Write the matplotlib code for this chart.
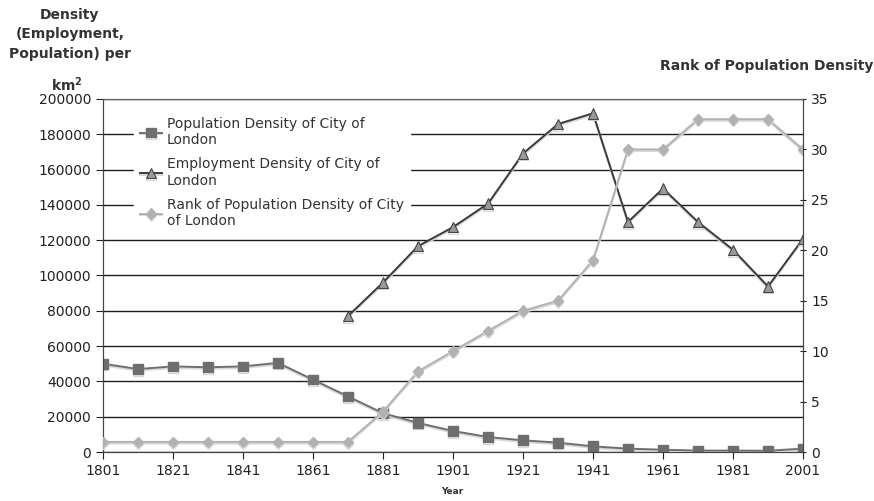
import numpy as np
import matplotlib
matplotlib.use('Agg')
import matplotlib.pyplot as plt
import matplotlib.patheffects as pe

years = [1801, 1811, 1821, 1831, 1841, 1851, 1861, 1871, 1881, 1891, 1901,
         1911, 1921, 1931, 1941, 1951, 1961, 1971, 1981, 1991, 2001]
# population density per km2 (left axis)
pop_density = [50000, 47000, 48500, 48000, 48500, 50500, 41000, 31500, 22000, 16500, 11900,
               8500, 6600, 5300, 3200, 1900, 1300, 800, 800, 700, 1900]
# employment density, data starts 1871
emp_years = [1871, 1881, 1891, 1901, 1911, 1921, 1931, 1941, 1951, 1961, 1971, 1981, 1991, 2001]
emp_density = [77000, 96000, 116600, 127400, 140700, 169100, 185800, 191900,
               130300, 149300, 130300, 114600, 93750, 120800]
# rank of population density (right axis)
rank = [1, 1, 1, 1, 1, 1, 1, 1, 4, 8, 10, 12, 14, 15, 19, 30, 30, 33, 33, 33, 30]

xticks = [1801, 1821, 1841, 1861, 1881, 1901, 1921, 1941, 1961, 1981, 2001]

plt.rcParams['font.family'] = 'DejaVu Sans'
fig = plt.figure(figsize=(8.74, 5.01), dpi=100)
ax = fig.add_axes([0.1178, 0.0978, 0.801, 0.7046])
ax2 = ax.twinx()

shadow = [pe.SimpleLineShadow(offset=(0, -1.2), shadow_color='#d8d8d8', alpha=1), pe.Normal()]

l1, = ax.plot(years, pop_density, color='#6e6e6e', lw=1.4, marker='s', ms=7,
              mfc='#6e6e6e', mec='#6e6e6e', path_effects=shadow, zorder=3,
              label='Population Density of City of\nLondon')
l2, = ax.plot(emp_years, emp_density, color='#3a3a3a', lw=1.4, marker='^', ms=7.5,
              mfc='#9a9a9a', mec='#444444', mew=0.8, path_effects=shadow, zorder=3,
              label='Employment Density of City of\nLondon')
l3, = ax2.plot(years, rank, color='#b2b2b2', lw=1.4, marker='D', ms=5.5,
               mfc='#b2b2b2', mec='#b2b2b2', path_effects=shadow, zorder=3,
               label='Rank of Population Density of City\nof London')

ax.set_xlim(1801, 2001)
ax.set_ylim(0, 200000)
ax2.set_ylim(0, 35)
ax.set_yticks(np.arange(0, 200001, 20000))
ax2.set_yticks(np.arange(0, 36, 5))
ax.set_xticks(xticks)

ax.yaxis.grid(True, color='#1e1e1e', lw=1)
ax.set_axisbelow(True)
for s in ['left', 'right', 'bottom']:
    ax.spines[s].set_color('#444444')
    ax2.spines[s].set_color('#444444')
ax.spines['top'].set_color('#666666')
ax2.spines['top'].set_color('#666666')

ax.tick_params(axis='both', labelsize=10, colors='#222222', length=5, direction='out')
ax2.tick_params(axis='y', labelsize=10, colors='#222222', length=5, direction='inout')

leg = ax2.legend(handles=[l1, l2, l3], loc='upper left', bbox_to_anchor=(0.035, 0.985),
                 fontsize=10, frameon=True, fancybox=False, framealpha=1,
                 edgecolor='white', facecolor='white', handlelength=1.6,
                 labelspacing=0.75, borderpad=0.4, handletextpad=0.35)
for t in leg.get_texts():
    t.set_color('#333333')

fig.text(0.080, 0.985, 'Density\n(Employment,\nPopulation) per', ha='center', va='top',
         fontsize=10, fontweight='bold', color='#333333', linespacing=1.5)
fig.text(0.077, 0.830, 'km$^\\mathbf{2}$', ha='center', va='center', fontsize=10,
         fontweight='bold', color='#333333')
fig.text(0.999, 0.868, 'Rank of Population Density', ha='right', va='center',
         fontsize=10, fontweight='bold', color='#333333')
fig.text(0.517, 0.018, 'Year', ha='center', va='center', fontsize=6.5,
         fontweight='bold', color='#333333')

fig.savefig('out.png', dpi=100)
